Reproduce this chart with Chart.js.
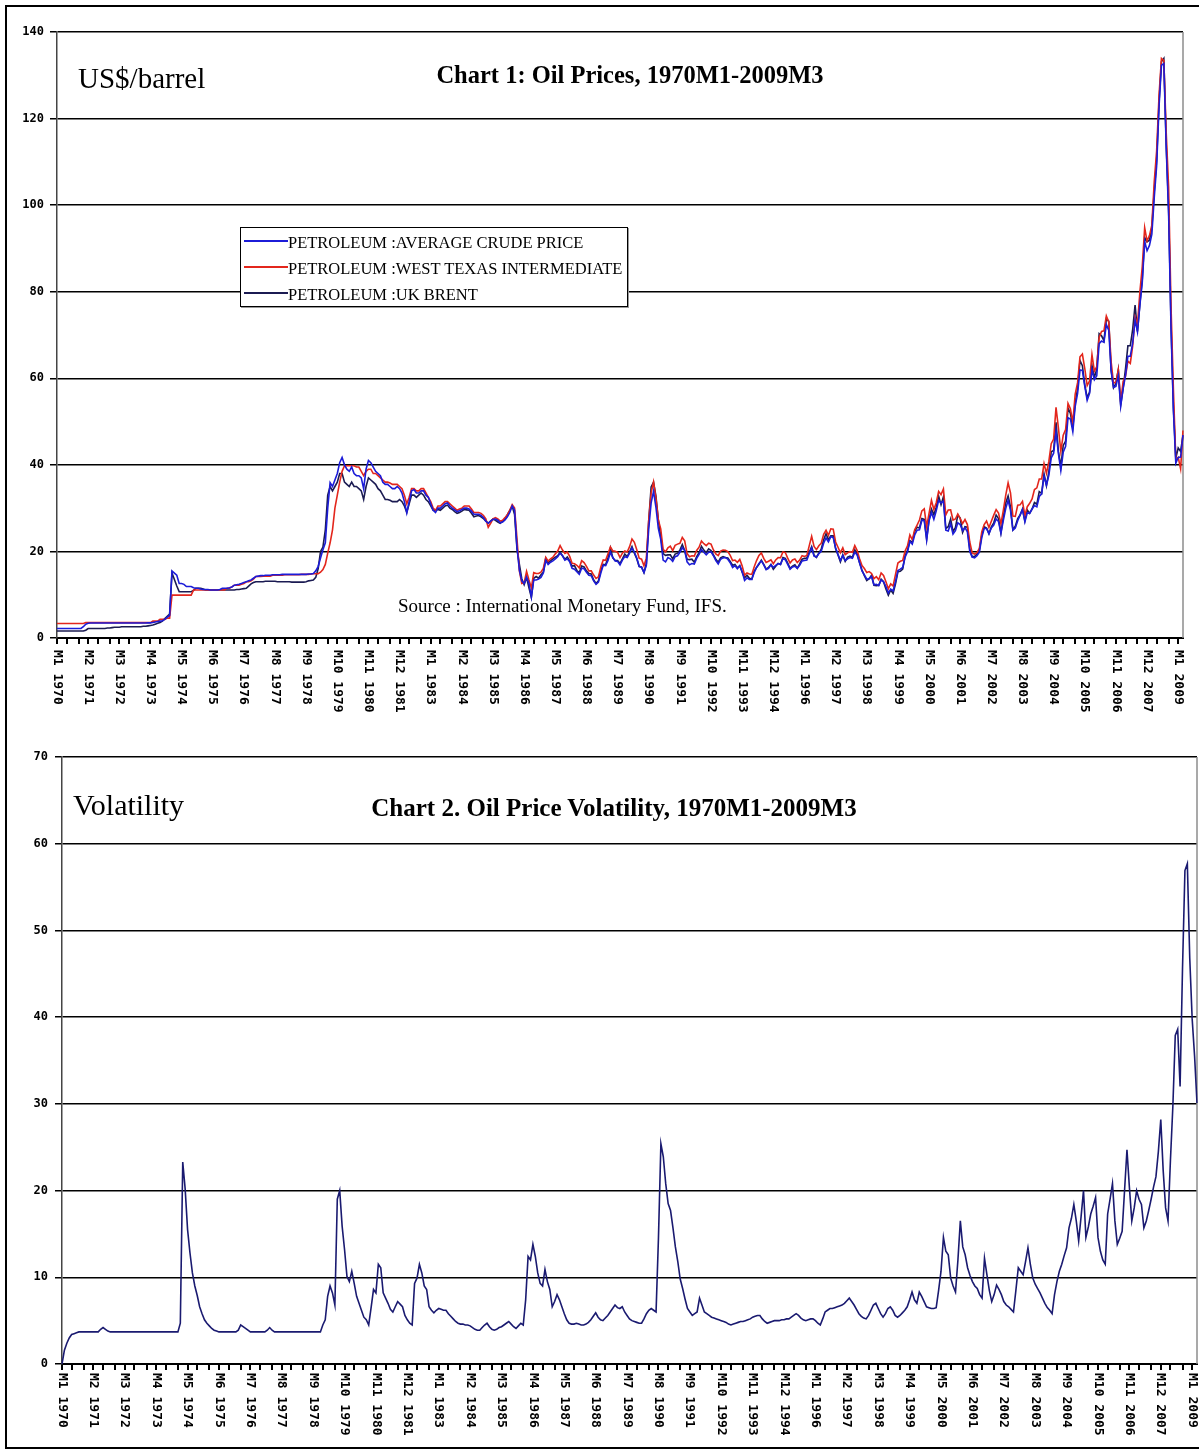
<!DOCTYPE html>
<html>
<head>
<meta charset="utf-8">
<script src="https://cdn.jsdelivr.net/npm/chart.js@4.4.0/dist/chart.umd.min.js"></script>
<style>
  html, body { margin: 0; padding: 0; background: #fff; }
  #page { position: relative; width: 1199px; height: 1452px; overflow: hidden; }
  #frame { position: absolute; left: 5px; top: 5px; width: 1210px; height: 1444px; border: 2px solid #000; box-sizing: border-box; z-index: 3; pointer-events: none; }
  canvas { position: absolute; left: 0; }
  .txt { position: absolute; white-space: nowrap; font-family: "Liberation Serif", "Times New Roman", serif; color: #000; line-height: 1; z-index: 2; }
  .title { font-weight: bold; transform: translateX(-50%); }
  #legend { position: absolute; left: 240px; top: 227px; width: 388px; height: 80px; border: 1px solid #000; background: #fff; box-sizing: border-box; z-index: 2; box-shadow: 1px 1px 0 #999; }
  #legend .row { position: absolute; left: 0; height: 20px; }
  #legend .swatch { position: absolute; left: 3px; top: 9px; width: 44px; height: 2px; }
  #legend .lab { position: absolute; left: 47px; top: 2px; font-family: "Liberation Serif", serif; font-size: 16.5px; white-space: nowrap; }
</style>
</head>
<body>
<div id="page">
  <canvas id="prices" width="1199" height="720" style="top:0"></canvas>
  <canvas id="vol" width="1199" height="732" style="top:720px"></canvas>

  <div class="txt title" style="left:630px; top:63px; font-size:24.5px;">Chart 1: Oil Prices, 1970M1-2009M3</div>
  <div class="txt" style="left:78px; top:64px; font-size:29px;">US$/barrel</div>
  <div class="txt" style="left:398px; top:596px; font-size:19px;">Source : International Monetary Fund, IFS.</div>
  <div id="legend"></div>

  <div class="txt title" style="left:614px; top:795px; font-size:25px;">Chart 2. Oil Price Volatility, 1970M1-2009M3</div>
  <div class="txt" style="left:73px; top:790px; font-size:30px;">Volatility</div>

  <div id="frame"></div>
</div>

<script>
'use strict';

// monthly values, 1970M1 - 2009M3 (one row per year)
const avgCrude = [
  2.2, 2.2, 2.2, 2.2, 2.2, 2.2, 2.2, 2.2, 2.2, 2.2, 2.2, 2.6,
  3.2, 3.4, 3.45, 3.45, 3.45, 3.45, 3.45, 3.45, 3.45, 3.45, 3.45, 3.45,
  3.45, 3.45, 3.45, 3.45, 3.45, 3.45, 3.45, 3.45, 3.45, 3.45, 3.45, 3.45,
  3.45, 3.45, 3.5, 3.5, 3.6, 3.7, 3.8, 3.9, 4.0, 4.3, 4.8, 5.2,
  15.5, 15.0, 14.5, 12.6, 12.6, 12.4, 11.9, 11.9, 11.9, 11.6, 11.5, 11.5,
  11.3, 11.2, 11.2, 11.2, 11.1, 11.1, 11.1, 11.1, 11.2, 11.5, 11.5, 11.5,
  11.6, 11.8, 12.2, 12.3, 12.4, 12.6, 12.8, 13.0, 13.2, 13.4, 13.8, 14.2,
  14.3, 14.4, 14.4, 14.5, 14.5, 14.5, 14.6, 14.6, 14.6, 14.6, 14.7, 14.7,
  14.7, 14.7, 14.7, 14.7, 14.7, 14.7, 14.7, 14.7, 14.7, 14.8, 14.8, 14.9,
  15.5, 16.5, 18.5, 20.4, 22.0, 30.0, 35.9, 35.0, 36.5, 38.0, 40.5, 41.7,
  40.0, 39.0, 38.5, 39.5, 38.0, 37.5, 37.5, 37.0, 34.5, 39.0, 41.0, 40.5,
  39.5, 38.5, 38.0, 37.5, 36.0, 35.5, 35.5, 35.0, 34.5, 34.5, 35.0, 34.5,
  33.5, 31.5, 28.9, 31.5, 34.0, 34.3, 33.5, 33.5, 34.0, 34.0, 33.0, 32.5,
  31.0, 29.5, 29.0, 30.0, 30.0, 30.5, 31.0, 31.2, 30.5, 30.0, 29.6, 29.2,
  29.4, 29.7, 30.0, 30.0, 29.8, 29.3, 28.6, 28.6, 28.6, 28.3, 27.8, 27.0,
  26.5, 27.0, 27.4, 27.5, 27.2, 26.6, 26.8, 27.3, 28.0, 29.0, 30.5, 29.5,
  21.0, 15.7, 13.2, 12.6, 14.1, 12.6, 9.5, 13.4, 13.4, 13.6, 14.0, 15.0,
  17.9, 17.0, 17.5, 17.8, 18.3, 18.8, 19.6, 19.0, 18.0, 18.3, 17.6, 16.1,
  15.9, 15.3, 14.7, 16.1, 16.0, 15.2, 14.5, 14.4, 13.2, 12.4, 12.9, 15.0,
  16.8, 16.7, 17.9, 19.8, 18.6, 17.8, 17.7, 16.9, 18.0, 18.8, 18.6, 19.6,
  20.8, 19.8, 18.5, 16.6, 16.3, 15.1, 16.8, 25.3, 31.2, 33.9, 30.2, 25.3,
  22.8, 18.0, 17.6, 18.6, 18.3, 17.7, 18.8, 19.0, 19.8, 20.9, 20.2, 17.6,
  16.9, 17.2, 17.1, 18.4, 19.3, 20.4, 19.8, 19.2, 19.8, 19.9, 19.0, 17.9,
  17.1, 18.2, 18.5, 18.6, 18.2, 17.4, 16.3, 16.7, 16.0, 16.7, 15.3, 13.3,
  13.9, 13.5, 13.5, 15.1, 16.3, 17.2, 17.8, 16.9, 15.8, 16.1, 16.9, 16.3,
  16.8, 17.2, 17.0, 18.3, 18.1, 17.0, 15.9, 16.4, 16.6, 16.1, 16.8, 17.8,
  17.9, 18.0, 19.5, 20.8, 18.9, 18.7, 19.5, 20.0, 21.9, 23.1, 22.2, 23.4,
  23.2, 20.8, 19.3, 17.9, 19.1, 17.9, 18.3, 18.6, 18.4, 19.8, 19.2, 17.4,
  15.5, 14.6, 13.6, 13.7, 14.2, 12.3, 12.4, 12.1, 13.4, 13.0, 11.9, 10.4,
  11.3, 10.9, 13.0, 15.6, 15.9, 16.3, 18.7, 19.9, 22.3, 21.7, 23.8, 24.9,
  25.0, 27.2, 27.1, 22.6, 27.1, 29.0, 27.4, 29.4, 31.8, 31.2, 31.6, 24.9,
  24.7, 26.4, 24.0, 24.8, 26.6, 26.2, 24.8, 25.5, 24.5, 20.0, 18.7, 18.5,
  19.0, 19.8, 23.2, 25.3, 25.3, 24.1, 25.4, 26.1, 27.5, 26.9, 24.2, 27.2,
  29.9, 31.8, 29.5, 24.9, 25.4, 27.1, 28.4, 29.7, 26.8, 28.9, 28.8, 29.8,
  30.6, 30.3, 32.7, 33.3, 37.4, 35.3, 37.6, 41.6, 42.7, 47.7, 42.6, 38.7,
  42.9, 44.3, 50.9, 50.6, 47.7, 53.5, 56.5, 61.9, 61.8, 58.2, 54.9, 56.5,
  62.0, 59.7, 60.6, 68.0, 68.6, 68.3, 72.4, 71.1, 61.8, 57.9, 58.1, 60.6,
  53.6, 57.6, 60.6, 65.1, 65.1, 68.2, 73.5, 70.7, 76.9, 82.2, 91.6, 89.5,
  90.7, 93.3, 101.8, 109.1, 122.8, 132.3, 132.7, 113.2, 97.8, 71.6, 52.5, 40.4,
  41.7, 41.8, 46.9
];

const wti = [
  3.35, 3.35, 3.35, 3.35, 3.35, 3.35, 3.35, 3.35, 3.35, 3.35, 3.35, 3.35,
  3.56, 3.56, 3.56, 3.56, 3.56, 3.56, 3.56, 3.56, 3.56, 3.56, 3.56, 3.56,
  3.56, 3.56, 3.56, 3.56, 3.56, 3.56, 3.56, 3.56, 3.56, 3.56, 3.56, 3.56,
  3.56, 3.56, 3.56, 3.56, 3.9, 3.9, 3.9, 4.3, 4.3, 4.3, 4.6, 4.6,
  9.9, 9.9, 9.9, 9.9, 9.9, 9.9, 9.9, 9.9, 9.9, 11.1, 11.1, 11.1,
  11.1, 11.1, 11.1, 11.1, 11.1, 11.1, 11.1, 11.1, 11.1, 11.1, 11.1, 11.5,
  11.5, 11.8, 12.2, 12.2, 12.2, 12.4, 12.6, 13.0, 13.0, 13.2, 13.6, 14.2,
  14.2, 14.2, 14.3, 14.3, 14.3, 14.3, 14.5, 14.5, 14.5, 14.5, 14.5, 14.6,
  14.6, 14.6, 14.6, 14.6, 14.6, 14.6, 14.7, 14.7, 14.7, 14.7, 14.8, 14.85,
  14.85, 14.85, 15.2, 15.8, 17.0, 19.6, 22.0, 25.0, 30.0, 33.0, 36.0, 38.5,
  39.8, 39.8, 39.8, 39.8, 39.8, 39.5, 39.5, 38.5, 37.5, 38.5, 39.0, 39.0,
  38.0, 38.0, 37.5, 37.0, 36.5, 36.0, 36.0, 35.8, 35.5, 35.5, 35.5, 35.0,
  34.5, 33.0, 31.0, 32.5, 34.5, 34.5, 34.0, 34.0, 34.5, 34.5, 33.5, 32.5,
  31.5, 30.0, 29.5, 30.5, 30.5, 31.0, 31.5, 31.5, 31.0, 30.5, 30.0, 29.5,
  29.8, 30.0, 30.5, 30.5, 30.5, 29.8, 29.0, 29.0, 29.0, 28.8, 28.3, 27.5,
  25.6, 26.5, 27.5, 27.8, 27.5, 27.0, 27.2, 27.8, 28.5, 29.5, 30.8, 30.0,
  22.9, 15.5, 12.6, 12.8, 15.4, 13.4, 11.6, 15.1, 14.9, 14.9, 15.2, 16.1,
  18.65, 17.75, 18.3, 18.68, 19.44, 20.07, 21.34, 20.31, 19.53, 19.86, 18.85, 17.28,
  17.13, 16.8, 16.2, 17.86, 17.42, 16.53, 15.5, 15.52, 14.54, 13.77, 14.14, 16.38,
  18.02, 17.94, 19.48, 21.07, 20.12, 20.05, 19.78, 18.58, 19.59, 20.1, 19.86, 21.1,
  22.86, 22.11, 20.39, 18.43, 18.2, 16.7, 18.45, 27.31, 33.51, 36.04, 32.33, 27.28,
  25.23, 20.48, 19.9, 20.83, 21.23, 20.19, 21.4, 21.69, 21.89, 23.23, 22.46, 19.5,
  18.79, 19.01, 18.92, 20.23, 20.98, 22.39, 21.78, 21.34, 21.88, 21.69, 20.34, 19.41,
  19.03, 20.09, 20.32, 20.25, 19.95, 19.09, 17.89, 18.01, 17.5, 18.15, 16.61, 14.52,
  15.03, 14.78, 14.68, 16.42, 17.89, 19.06, 19.66, 18.38, 17.45, 17.72, 18.07, 17.16,
  18.04, 18.57, 18.54, 19.9, 19.74, 18.45, 17.33, 18.02, 18.23, 17.43, 17.99, 19.03,
  18.85, 19.09, 21.33, 23.5, 21.17, 20.42, 21.3, 21.9, 23.97, 24.88, 23.71, 25.23,
  25.13, 22.18, 20.97, 19.7, 20.82, 19.26, 19.66, 19.95, 19.8, 21.33, 20.19, 18.33,
  16.72, 16.06, 15.12, 15.35, 14.91, 13.72, 14.17, 13.47, 15.03, 14.46, 13.0, 11.35,
  12.52, 12.01, 14.68, 17.31, 17.72, 17.92, 20.1, 21.28, 23.8, 22.69, 25.0, 26.1,
  27.26, 29.37, 29.84, 25.72, 28.79, 31.82, 29.7, 31.26, 33.88, 33.11, 34.42, 28.44,
  29.59, 29.61, 27.25, 27.49, 28.63, 27.6, 26.43, 27.37, 26.2, 22.17, 19.64, 19.39,
  19.72, 20.72, 24.53, 26.18, 27.04, 25.52, 26.97, 28.39, 29.66, 28.84, 26.35, 29.46,
  32.95, 35.83, 33.51, 28.17, 28.11, 30.66, 30.76, 31.57, 28.31, 30.34, 31.11, 32.13,
  34.31, 34.69, 36.74, 36.75, 40.28, 38.03, 40.78, 44.9, 45.94, 53.28, 48.47, 43.15,
  46.84, 48.15, 54.19, 52.98, 49.83, 56.35, 58.99, 64.98, 65.59, 62.26, 58.32, 59.41,
  65.49, 61.63, 62.69, 69.44, 70.84, 70.95, 74.41, 73.04, 63.8, 58.89, 59.08, 61.96,
  54.51, 59.28, 60.44, 63.98, 63.46, 67.49, 74.12, 72.36, 79.92, 85.8, 94.77, 91.69,
  92.97, 95.39, 105.45, 112.58, 125.4, 133.88, 133.37, 116.67, 104.11, 76.61, 57.31, 41.12,
  41.71, 39.09, 47.94
];

const brent = [
  1.6, 1.6, 1.6, 1.6, 1.6, 1.6, 1.6, 1.6, 1.6, 1.6, 1.6, 1.6,
  1.8, 2.2, 2.2, 2.2, 2.2, 2.2, 2.2, 2.2, 2.2, 2.3, 2.3, 2.4,
  2.5, 2.5, 2.5, 2.6, 2.6, 2.6, 2.6, 2.6, 2.6, 2.6, 2.6, 2.6,
  2.7, 2.7, 2.8, 2.9, 3.0, 3.2, 3.4, 3.6, 3.9, 4.5, 5.0, 5.5,
  15.0, 13.5, 12.0, 10.7, 10.7, 10.7, 10.7, 10.7, 10.7, 11.0, 11.5, 11.5,
  11.5, 11.3, 11.1, 11.1, 11.1, 11.1, 11.1, 11.1, 11.1, 11.1, 11.1, 11.1,
  11.1, 11.1, 11.1, 11.2, 11.2, 11.3, 11.4, 11.5, 12.0, 12.5, 12.8, 13.0,
  13.0, 13.0, 13.0, 13.1, 13.1, 13.1, 13.1, 13.1, 13.0, 13.0, 13.0, 13.0,
  13.0, 13.0, 12.9, 12.9, 12.9, 12.9, 12.9, 12.9, 13.0, 13.2, 13.3, 13.4,
  14.0, 16.0, 20.0, 21.0, 25.0, 33.0, 35.0, 34.0, 35.0, 36.0, 38.0, 38.0,
  36.0, 35.5, 35.0, 36.0, 35.0, 35.0, 34.5, 34.0, 32.0, 35.0, 37.0, 36.5,
  36.0, 35.5, 34.5, 34.0, 33.0, 32.0, 32.0, 31.8, 31.5, 31.5, 31.5, 32.0,
  31.5, 30.5, 29.0, 31.0, 33.0, 33.0, 32.5, 33.0, 33.5, 33.0, 32.0, 31.5,
  30.5, 29.5, 29.5, 29.7, 29.5, 30.0, 30.5, 30.7, 30.0, 29.7, 29.2, 28.8,
  29.0, 29.3, 29.7, 29.6, 29.5, 28.8, 28.0, 28.2, 28.3, 28.0, 27.6, 27.0,
  26.5, 27.0, 27.5, 27.2, 26.8, 26.5, 27.0, 27.5, 28.5, 29.5, 30.5, 28.5,
  20.6, 17.0, 13.7, 12.3, 14.0, 11.6, 9.4, 13.8, 14.2, 13.8, 14.6, 15.2,
  18.4, 17.4, 17.8, 18.3, 18.7, 19.0, 19.8, 19.0, 18.2, 18.7, 17.8, 16.6,
  16.7, 15.6, 15.1, 16.6, 16.4, 15.5, 14.9, 14.8, 13.4, 12.6, 13.2, 15.6,
  17.0, 16.9, 18.6, 20.8, 18.5, 17.9, 17.9, 17.2, 18.3, 19.4, 18.8, 19.9,
  21.1, 19.6, 18.3, 16.5, 16.4, 15.1, 17.2, 27.2, 34.9, 36.0, 32.8, 27.3,
  23.5, 19.5, 19.1, 19.2, 19.2, 18.3, 19.4, 19.6, 20.3, 21.6, 20.2, 18.2,
  18.1, 18.2, 17.5, 18.8, 19.7, 21.2, 20.3, 19.7, 20.6, 20.2, 19.2, 18.2,
  17.5, 18.5, 18.8, 18.6, 18.5, 17.7, 16.8, 17.0, 16.2, 16.7, 15.2, 13.9,
  14.5, 13.8, 13.6, 15.4, 16.3, 17.0, 18.0, 17.0, 15.9, 16.3, 17.0, 15.9,
  16.6, 17.2, 17.0, 18.6, 18.4, 17.3, 16.1, 16.6, 16.9, 16.1, 17.1, 18.2,
  18.4, 18.5, 19.8, 21.1, 19.1, 18.6, 19.6, 20.5, 22.7, 24.1, 22.7, 23.6,
  23.6, 20.6, 19.2, 17.6, 19.2, 17.7, 18.7, 18.9, 18.6, 20.4, 19.4, 17.4,
  15.7, 14.4, 13.3, 13.7, 14.5, 12.2, 12.1, 12.2, 13.6, 13.0, 11.3, 9.9,
  11.1, 10.3, 12.5, 15.3, 15.4, 15.9, 19.0, 20.2, 22.5, 22.1, 24.6, 25.6,
  25.4, 27.6, 27.4, 22.9, 27.4, 29.8, 28.5, 30.2, 32.8, 30.8, 32.6, 25.3,
  25.7, 27.5, 24.6, 25.5, 28.4, 27.7, 24.4, 25.7, 25.6, 20.5, 18.8, 18.8,
  19.4, 20.3, 23.7, 25.7, 25.4, 24.1, 25.7, 26.6, 28.4, 27.6, 24.3, 28.0,
  31.2, 32.8, 30.3, 25.0, 25.8, 27.6, 28.4, 29.8, 27.1, 29.6, 28.8, 29.8,
  31.3, 30.9, 33.8, 33.4, 37.9, 35.2, 38.4, 43.0, 43.3, 49.8, 43.1, 39.6,
  44.5, 45.5, 53.1, 51.9, 48.7, 54.3, 57.6, 64.1, 62.9, 58.5, 55.5, 56.8,
  63.0, 60.2, 62.1, 70.3, 69.8, 68.7, 73.7, 73.2, 61.9, 57.8, 58.8, 62.0,
  53.9, 57.6, 62.2, 67.5, 67.5, 71.3, 76.9, 70.8, 77.2, 82.9, 92.5, 91.5,
  91.9, 94.8, 103.3, 110.4, 123.9, 133.1, 133.9, 113.9, 99.1, 72.8, 53.2, 41.6,
  43.9, 43.1, 46.8
];

const volatility = [
  0.0, 1.6, 2.4, 3.0, 3.4, 3.5, 3.6, 3.7, 3.7, 3.7, 3.7, 3.7,
  3.7, 3.7, 3.7, 3.7, 4.0, 4.2, 4.0, 3.8, 3.7, 3.7, 3.7, 3.7,
  3.7, 3.7, 3.7, 3.7, 3.7, 3.7, 3.7, 3.7, 3.7, 3.7, 3.7, 3.7,
  3.7, 3.7, 3.7, 3.7, 3.7, 3.7, 3.7, 3.7, 3.7, 3.7, 3.7, 3.7,
  3.7, 4.7, 23.3, 20.2, 15.5, 12.8, 10.5, 9.0, 7.9, 6.6, 5.8, 5.1,
  4.7, 4.4, 4.1, 3.9, 3.8, 3.7, 3.7, 3.7, 3.7, 3.7, 3.7, 3.7,
  3.7, 3.9, 4.5, 4.3, 4.1, 3.9, 3.7, 3.7, 3.7, 3.7, 3.7, 3.7,
  3.7, 3.9, 4.2, 3.9, 3.7, 3.7, 3.7, 3.7, 3.7, 3.7, 3.7, 3.7,
  3.7, 3.7, 3.7, 3.7, 3.7, 3.7, 3.7, 3.7, 3.7, 3.7, 3.7, 3.7,
  4.5, 5.1, 7.8, 9.0, 8.2, 6.8, 19.0, 20.0, 15.9, 13.2, 10.1, 9.5,
  10.7, 9.3, 7.8, 7.0, 6.2, 5.4, 5.1, 4.5, 6.5, 8.6, 8.2, 11.5,
  11.1, 8.2, 7.6, 7.0, 6.3, 6.0, 6.6, 7.2, 6.9, 6.6, 5.6, 5.1,
  4.7, 4.5, 9.3, 9.9, 11.5, 10.5, 9.0, 8.6, 6.6, 6.2, 5.9, 6.2,
  6.4, 6.3, 6.2, 6.2, 5.8, 5.5, 5.2, 4.9, 4.7, 4.6, 4.6, 4.5,
  4.5, 4.4, 4.2, 4.0, 3.9, 3.9, 4.2, 4.5, 4.7, 4.3, 4.0, 3.9,
  4.0, 4.2, 4.3, 4.5, 4.7, 4.9, 4.6, 4.3, 4.1, 4.4, 4.7, 4.5,
  7.4, 12.4, 12.0, 13.8, 12.4, 10.5, 9.3, 9.0, 10.9, 9.5, 8.6, 6.6,
  7.2, 8.0, 7.4, 6.6, 5.8, 5.1, 4.7, 4.6, 4.6, 4.7, 4.6, 4.5,
  4.5, 4.6, 4.8, 5.1, 5.5, 5.9, 5.4, 5.1, 5.0, 5.3, 5.6, 6.0,
  6.4, 6.8, 6.5, 6.4, 6.6, 6.0, 5.6, 5.2, 5.0, 4.9, 4.8, 4.7,
  4.7, 5.2, 5.8, 6.2, 6.4, 6.2, 6.0, 14.6, 25.4, 23.9, 20.8, 18.5,
  17.7, 15.7, 13.5, 11.8, 9.8, 8.7, 7.5, 6.4, 6.0, 5.6, 5.8, 6.0,
  7.6, 6.8, 6.0, 5.8, 5.6, 5.4, 5.3, 5.2, 5.1, 5.0, 4.9, 4.8,
  4.6, 4.5, 4.6, 4.7, 4.8, 4.9, 4.9, 5.0, 5.1, 5.2, 5.4, 5.5,
  5.6, 5.6, 5.2, 4.9, 4.7, 4.8, 4.9, 5.0, 5.0, 5.0, 5.1, 5.1,
  5.2, 5.2, 5.4, 5.6, 5.8, 5.6, 5.3, 5.1, 5.0, 5.1, 5.2, 5.2,
  5.0, 4.7, 4.5, 5.2, 6.0, 6.2, 6.4, 6.4, 6.5, 6.6, 6.7, 6.8,
  7.0, 7.3, 7.6, 7.2, 6.8, 6.3, 5.8, 5.5, 5.3, 5.2, 5.6, 6.2,
  6.8, 7.0, 6.4, 5.8, 5.4, 5.8, 6.4, 6.6, 6.2, 5.6, 5.4, 5.6,
  5.9, 6.2, 6.6, 7.4, 8.3, 7.4, 7.0, 8.3, 7.8, 7.2, 6.6, 6.5,
  6.4, 6.4, 6.5, 8.5, 10.7, 14.6, 13.0, 12.6, 9.9, 9.0, 8.3, 12.0,
  16.5, 13.5, 12.6, 11.1, 10.2, 9.5, 9.0, 8.7, 8.0, 7.6, 12.2, 10.3,
  8.5, 7.2, 8.0, 9.1, 8.6, 8.0, 7.2, 6.8, 6.6, 6.3, 6.0, 8.5,
  11.1, 10.7, 10.3, 11.8, 13.4, 11.5, 9.9, 9.2, 8.7, 8.2, 7.6, 7.0,
  6.5, 6.2, 5.8, 8.0, 9.5, 10.7, 11.5, 12.5, 13.4, 15.7, 16.8, 18.4,
  16.5, 14.2, 17.0, 20.0, 14.6, 15.8, 17.3, 18.2, 19.2, 14.6, 13.0, 12.0,
  11.5, 17.3, 19.0, 20.8, 16.5, 13.8, 14.5, 15.3, 20.0, 24.7, 20.4, 16.5,
  18.0, 20.0, 19.0, 18.4, 15.7, 16.5, 17.7, 19.0, 20.4, 21.6, 24.5, 28.2,
  22.3, 18.0, 16.5, 23.5, 29.7, 37.9, 38.6, 32.0, 45.6, 56.9, 57.7, 46.8,
  39.8, 35.5, 30.1
];

const seriesNames = [
  'PETROLEUM :AVERAGE CRUDE PRICE',
  'PETROLEUM :WEST TEXAS INTERMEDIATE',
  'PETROLEUM :UK BRENT'
];
const seriesColors = ['#1c1cd8', '#e3261c', '#1b1b52'];
const priceTicks = [0, 20, 40, 60, 80, 100, 120, 140];
const volTicks = [0, 10, 20, 30, 40, 50, 60, 70];

const startYear = 1970;
const labelEvery = 13;

// category labels "M1 1970" ... "M3 2009"
const months = [];
for (let i = 0; i < wti.length; i++) {
  months.push('M' + (i % 12 + 1) + ' ' + (startYear + Math.floor(i / 12)));
}

function isTickMark(i) {
  const r = i % labelEvery;
  return r === 0 || r === 4 || r === 9;
}

// grey edge on the right of the plot area
const plotBorder = {
  id: 'plotBorder',
  beforeDatasetsDraw(chart) {
    const a = chart.chartArea;
    const ctx = chart.ctx;
    ctx.save();
    ctx.strokeStyle = '#8c8c8c';
    ctx.lineWidth = 1.5;
    ctx.beginPath();
    ctx.moveTo(a.right, a.top);
    ctx.lineTo(a.right, a.bottom);
    ctx.stroke();
    ctx.restore();
  }
};

// month labels turned to read from top to bottom
const monthLabels = {
  id: 'monthLabels',
  afterDraw(chart, args, opts) {
    const x = chart.scales.x;
    const ctx = chart.ctx;
    ctx.save();
    ctx.font = 'bold 13px "DejaVu Sans Mono"';
    ctx.fillStyle = '#000';
    ctx.textAlign = 'left';
    ctx.textBaseline = 'middle';
    x.ticks.forEach((t, i) => {
      if (!t.label) return;
      ctx.save();
      ctx.translate(x.getPixelForTick(i), x.top + opts.offset);
      ctx.rotate(Math.PI / 2);
      ctx.fillText(t.label, 0, 0);
      ctx.restore();
    });
    ctx.restore();
  }
};

function makeChart(id, datasets, yTicks, o) {
  return new Chart(document.getElementById(id), {
    type: 'line',
    data: { labels: months, datasets: datasets },
    options: {
      responsive: false,
      animation: false,
      events: [],
      layout: { padding: o.padding },
      elements: { point: { radius: 0 }, line: { tension: 0 } },
      plugins: {
        legend: { display: false },
        tooltip: { enabled: false },
        monthLabels: { offset: o.labelOffset }
      },
      scales: {
        x: {
          type: 'category',
          offset: false,
          afterFit: s => { s.height = o.xHeight; s.paddingRight = 0; s.paddingLeft = 0; },
          grid: {
            drawOnChartArea: false,
            tickLength: 6,
            lineWidth: 2,
            color: c => isTickMark(c.index) ? '#000' : 'rgba(0,0,0,0)'
          },
          border: { display: true, color: '#000', width: 2 },
          ticks: {
            autoSkip: false,
            maxRotation: 90,
            minRotation: 90,
            padding: 0,
            color: 'rgba(0,0,0,0)',
            font: { size: 1 },
            callback: (v, i) => i % labelEvery === 0 ? months[i] : ''
          }
        },
        y: {
          min: yTicks[0],
          max: yTicks[yTicks.length - 1],
          afterFit: s => { s.width = o.yWidth; },
          afterBuildTicks: s => { s.ticks = yTicks.map(v => ({ value: v })); },
          grid: { color: '#000', lineWidth: 1.5, tickLength: 7 },
          border: { display: true, color: '#444', width: 1.5 },
          ticks: {
            color: '#000',
            padding: o.yPad,
            font: { family: 'DejaVu Sans Mono', size: 12, weight: 'bold' }
          }
        }
      }
    },
    plugins: [plotBorder, monthLabels]
  });
}

const priceSeries = [avgCrude, wti, brent];
const priceSets = priceSeries.map((d, k) => ({
  label: seriesNames[k],
  data: d,
  borderColor: seriesColors[k],
  borderWidth: 1.6,
  fill: false
}));

makeChart('prices', priceSets, priceTicks, {
  padding: { left: 0, right: 16, top: 32, bottom: 0 },
  yWidth: 57, xHeight: 82, labelOffset: 12, yPad: 6
});

makeChart('vol', [{
  label: 'Volatility',
  data: volatility,
  borderColor: '#1a1a70',
  borderWidth: 1.6,
  fill: false
}], volTicks, {
  padding: { left: 0, right: 2, top: 37, bottom: 0 },
  yWidth: 62, xHeight: 88, labelOffset: 9, yPad: 7
});

// legend box built from the series names and colours
const legend = document.getElementById('legend');
seriesNames.forEach((name, k) => {
  const row = document.createElement('div');
  row.className = 'row';
  row.style.top = (3 + k * 26) + 'px';
  row.innerHTML = '<span class="swatch" style="background:' + seriesColors[k] + '"></span>' +
    '<span class="lab">' + name + '</span>';
  legend.appendChild(row);
});
</script>
</body>
</html>
